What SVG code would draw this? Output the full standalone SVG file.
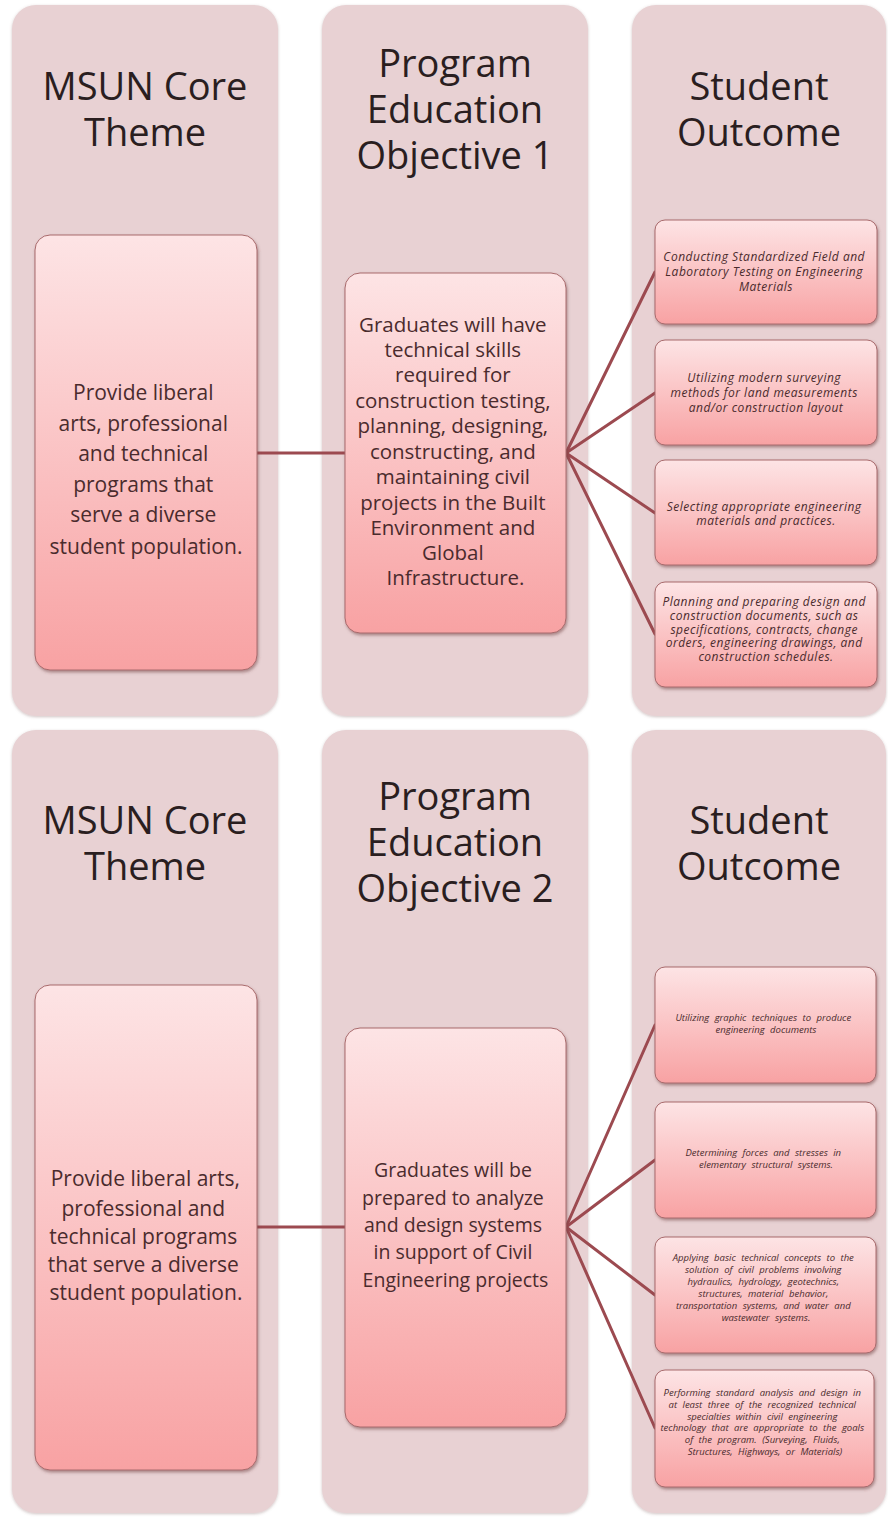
<svg xmlns="http://www.w3.org/2000/svg" width="888" height="1517" viewBox="0 0 888 1517">
<defs>
<linearGradient id="boxGrad" x1="0" y1="0" x2="0" y2="1">
<stop offset="0" stop-color="#FDE4E5"/>
<stop offset="1" stop-color="#F8A2A3"/>
</linearGradient>
<filter id="shadow" x="-10%" y="-10%" width="130%" height="130%">
<feDropShadow dx="1" dy="2" stdDeviation="1.5" flood-color="#6b3a3a" flood-opacity="0.5"/>
</filter>
<filter id="pshadow" x="-10%" y="-10%" width="130%" height="130%">
<feDropShadow dx="0" dy="1" stdDeviation="1.5" flood-color="#8a6a6a" flood-opacity="0.4"/>
</filter>
</defs>
<style>
.panel{fill:#E8D1D3;filter:url(#pshadow);}
.box{fill:url(#boxGrad);stroke:#A86A6C;stroke-width:1;filter:url(#shadow);}
.title{font-family:"Open Sans","Noto Sans",sans-serif;font-size:38px;fill:#2a1e1f;text-anchor:middle;}
.body{font-family:"Open Sans","Noto Sans",sans-serif;fill:#4a2b2d;text-anchor:middle;}
.small{font-family:"Open Sans","Noto Sans",sans-serif;font-style:italic;fill:#4a2b2d;text-anchor:middle;}
.s1{font-size:12px;letter-spacing:0.5px;}
.s2{font-size:9.5px;word-spacing:3px;}
.conn{stroke:#9C4A50;stroke-width:3;fill:none;stroke-linecap:round;}
</style>
<rect width="888" height="1517" fill="#ffffff"/>

<!-- Panels -->
<g id="panels">
<rect class="panel" x="12" y="5" width="266" height="711" rx="24"/>
<rect class="panel" x="322" y="5" width="266" height="711" rx="24"/>
<rect class="panel" x="632" y="5" width="254" height="711" rx="24"/>
<rect class="panel" x="12" y="730" width="266" height="783" rx="24"/>
<rect class="panel" x="322" y="730" width="266" height="783" rx="24"/>
<rect class="panel" x="632" y="730" width="254" height="783" rx="24"/>
</g>

<!-- Connectors -->
<g id="connectors">
<line class="conn" x1="257" y1="453" x2="345" y2="453"/>
<line class="conn" x1="566" y1="453" x2="655" y2="272"/>
<line class="conn" x1="566" y1="453" x2="655" y2="393"/>
<line class="conn" x1="566" y1="453" x2="655" y2="513"/>
<line class="conn" x1="566" y1="453" x2="655" y2="634"/>
<line class="conn" x1="257" y1="1227" x2="345" y2="1227"/>
<line class="conn" x1="566" y1="1227" x2="655" y2="1025"/>
<line class="conn" x1="566" y1="1227" x2="655" y2="1160"/>
<line class="conn" x1="566" y1="1227" x2="655" y2="1295"/>
<line class="conn" x1="566" y1="1227" x2="655" y2="1428"/>
</g>

<!-- Top row -->
<g id="title-core-1">
<text class="title" x="145" y="100">MSUN Core</text>
<text class="title" x="145" y="146">Theme</text>
</g>
<g id="title-peo-1">
<text class="title" x="455" y="77">Program</text>
<text class="title" x="455" y="123">Education</text>
<text class="title" x="455" y="169">Objective 1</text>
</g>
<g id="title-so-1">
<text class="title" x="759" y="100">Student</text>
<text class="title" x="759" y="146">Outcome</text>
</g>

<g id="core-1">
<rect class="box" x="35" y="235" width="222" height="435" rx="15"/>
<text class="body" font-size="21">
<tspan x="146" y="400">Provide liberal</tspan>
<tspan x="146" y="431">arts, professional</tspan>
<tspan x="146" y="461">and technical</tspan>
<tspan x="146" y="492">programs that</tspan>
<tspan x="146" y="522">serve a diverse</tspan>
<tspan x="146" y="554">student population.</tspan>
</text>
</g>

<g id="peo-1">
<rect class="box" x="345" y="273" width="221" height="360" rx="15"/>
<text class="body" font-size="20.5">
<tspan x="455.5" y="332">Graduates will have</tspan>
<tspan x="455.5" y="357">technical skills</tspan>
<tspan x="455.5" y="382">required for</tspan>
<tspan x="455.5" y="408">construction testing,</tspan>
<tspan x="455.5" y="433">planning, designing,</tspan>
<tspan x="455.5" y="459">constructing, and</tspan>
<tspan x="455.5" y="484">maintaining civil</tspan>
<tspan x="455.5" y="510">projects in the Built</tspan>
<tspan x="455.5" y="535">Environment and</tspan>
<tspan x="455.5" y="560">Global</tspan>
<tspan x="455.5" y="585">Infrastructure.</tspan>
</text>
</g>

<g id="so-1-1">
<rect class="box" x="655" y="220" width="222" height="104" rx="10"/>
<text class="small s1">
<tspan x="766" y="261">Conducting Standardized Field and</tspan>
<tspan x="766" y="276">Laboratory Testing on Engineering</tspan>
<tspan x="766" y="291">Materials</tspan>
</text>
</g>
<g id="so-1-2">
<rect class="box" x="655" y="340" width="222" height="105" rx="10"/>
<text class="small s1">
<tspan x="766" y="382">Utilizing modern surveying</tspan>
<tspan x="766" y="397">methods for land measurements</tspan>
<tspan x="766" y="412">and/or construction layout</tspan>
</text>
</g>
<g id="so-1-3">
<rect class="box" x="655" y="460" width="222" height="105" rx="10"/>
<text class="small s1">
<tspan x="766" y="511">Selecting appropriate engineering</tspan>
<tspan x="766" y="525">materials and practices.</tspan>
</text>
</g>
<g id="so-1-4">
<rect class="box" x="655" y="582" width="222" height="105" rx="10"/>
<text class="small s1">
<tspan x="766" y="606">Planning and preparing design and</tspan>
<tspan x="766" y="620">construction documents, such as</tspan>
<tspan x="766" y="634">specifications, contracts, change</tspan>
<tspan x="766" y="647">orders, engineering drawings, and</tspan>
<tspan x="766" y="661">construction schedules.</tspan>
</text>
</g>

<!-- Bottom row -->
<g id="title-core-2">
<text class="title" x="145" y="834">MSUN Core</text>
<text class="title" x="145" y="880">Theme</text>
</g>
<g id="title-peo-2">
<text class="title" x="455" y="810">Program</text>
<text class="title" x="455" y="856">Education</text>
<text class="title" x="455" y="902">Objective 2</text>
</g>
<g id="title-so-2">
<text class="title" x="759" y="834">Student</text>
<text class="title" x="759" y="880">Outcome</text>
</g>

<g id="core-2">
<rect class="box" x="35" y="985" width="222" height="485" rx="15"/>
<text class="body" font-size="21">
<tspan x="148" y="1186">Provide liberal arts,</tspan>
<tspan x="146" y="1216">professional and</tspan>
<tspan x="146" y="1244">technical programs</tspan>
<tspan x="146" y="1272">that serve a diverse</tspan>
<tspan x="146" y="1300">student population.</tspan>
</text>
</g>

<g id="peo-2">
<rect class="box" x="345" y="1028" width="221" height="399" rx="15"/>
<text class="body" font-size="19.5">
<tspan x="455.5" y="1177">Graduates will be</tspan>
<tspan x="455.5" y="1205">prepared to analyze</tspan>
<tspan x="455.5" y="1232">and design systems</tspan>
<tspan x="455.5" y="1259">in support of Civil</tspan>
<tspan x="455.5" y="1287">Engineering projects</tspan>
</text>
</g>

<g id="so-2-1">
<rect class="box" x="655" y="967" width="221" height="116" rx="10"/>
<text class="small s2">
<tspan x="766" y="1021">Utilizing graphic techniques to produce</tspan>
<tspan x="766" y="1033">engineering documents</tspan>
</text>
</g>
<g id="so-2-2">
<rect class="box" x="655" y="1102" width="221" height="116" rx="10"/>
<text class="small s2">
<tspan x="766" y="1156">Determining forces and stresses in</tspan>
<tspan x="766" y="1168">elementary structural systems.</tspan>
</text>
</g>
<g id="so-2-3">
<rect class="box" x="655" y="1237" width="221" height="116" rx="10"/>
<text class="small s2">
<tspan x="766" y="1261">Applying basic technical concepts to the</tspan>
<tspan x="766" y="1273">solution of civil problems involving</tspan>
<tspan x="766" y="1285">hydraulics, hydrology, geotechnics,</tspan>
<tspan x="766" y="1297">structures, material behavior,</tspan>
<tspan x="766" y="1309">transportation systems, and water and</tspan>
<tspan x="766" y="1321">wastewater systems.</tspan>
</text>
</g>
<g id="so-2-4">
<rect class="box" x="655" y="1370" width="219" height="117" rx="10"/>
<text class="small s2">
<tspan x="765" y="1396">Performing standard analysis and design in</tspan>
<tspan x="765" y="1408">at least three of the recognized technical</tspan>
<tspan x="765" y="1420">specialties within civil engineering</tspan>
<tspan x="765" y="1431">technology that are appropriate to the goals</tspan>
<tspan x="765" y="1443">of the program. (Surveying, Fluids,</tspan>
<tspan x="765" y="1455">Structures, Highways, or Materials)</tspan>
</text>
</g>
</svg>
